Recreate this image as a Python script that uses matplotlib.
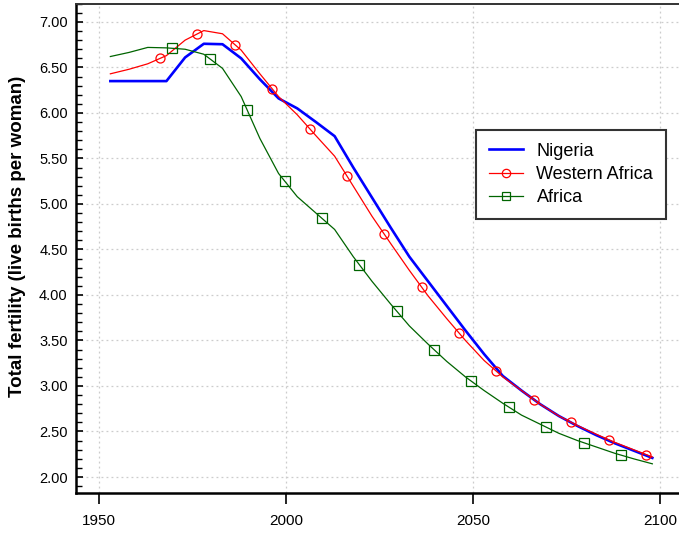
import numpy as np
import matplotlib
matplotlib.use('Agg')
import matplotlib.pyplot as plt
from matplotlib.ticker import MultipleLocator, FormatStrFormatter

matplotlib.rcParams['font.family'] = ['Liberation Sans', 'DejaVu Sans']

# ---------- data ----------
years = np.arange(1953, 2099, 5)

nigeria = [6.35, 6.35, 6.35, 6.35, 6.61, 6.76, 6.755, 6.60, 6.37, 6.16,
           6.05, 5.90, 5.745, 5.40, 5.07, 4.74, 4.42, 4.15, 3.88, 3.61,
           3.35, 3.11, 2.95, 2.80, 2.67, 2.56, 2.46, 2.37, 2.29, 2.21]

western_africa = [6.43, 6.48, 6.54, 6.63, 6.80, 6.905, 6.87, 6.69, 6.43, 6.18,
                  5.98, 5.75, 5.525, 5.195, 4.865, 4.565, 4.27, 3.99, 3.74, 3.50,
                  3.28, 3.10, 2.95, 2.80, 2.67, 2.565, 2.47, 2.38, 2.30, 2.22]

africa = [6.62, 6.665, 6.72, 6.715, 6.70, 6.645, 6.49, 6.18, 5.72, 5.335,
          5.08, 4.90, 4.72, 4.42, 4.15, 3.90, 3.66, 3.46, 3.27, 3.10,
          2.95, 2.81, 2.68, 2.58, 2.48, 2.40, 2.33, 2.26, 2.20, 2.145]

# marker positions (every 10 years, offset per series)
wa_marker_years = np.arange(1966.3, 2097, 10)
af_marker_years = np.arange(1969.6, 2090, 10)

fig = plt.figure(figsize=(6.79, 5.33), dpi=100)
ax = fig.add_axes([0.1119, 0.075, 0.889, 0.918])

ax.plot(years, nigeria, color='#0000ff', lw=1.9)
ax.plot(years, western_africa, color='#ff0000', lw=0.9)
ax.plot(wa_marker_years, np.interp(wa_marker_years, years, western_africa),
        ls='none', marker='o', ms=6.5, mfc='none', mec='#ff0000', mew=0.9)
ax.plot(years, africa, color='#006400', lw=0.9)
ax.plot(af_marker_years, np.interp(af_marker_years, years, africa),
        ls='none', marker='s', ms=6.5, mfc='none', mec='#006400', mew=0.9)

# legend proxies
h1, = ax.plot([], [], color='#0000ff', lw=1.9)
h2, = ax.plot([], [], color='#ff0000', lw=0.9, marker='o', ms=6, mfc='none', mew=0.9)
h3, = ax.plot([], [], color='#006400', lw=0.9, marker='s', ms=6, mfc='none', mew=0.9)
leg = ax.legend([h1, h2, h3], ['Nigeria', 'Western Africa', 'Africa'],
                loc='upper left', bbox_to_anchor=(476 / 679, 1 - 130 / 533),
                bbox_transform=fig.transFigure, borderaxespad=0,
                fontsize=13, fancybox=False, framealpha=1,
                handlelength=1.9, borderpad=0.7, labelspacing=0.35,
                handletextpad=0.75)
leg.get_frame().set_edgecolor('#333333')
leg.get_frame().set_linewidth(1.5)

ax.set_xlim(1943.8, 2105.3)
ax.set_ylim(1.824, 7.2)
ax.set_xticks([1950, 2000, 2050, 2100])
ax.yaxis.set_major_locator(MultipleLocator(0.5))
ax.yaxis.set_minor_locator(MultipleLocator(0.1))
ax.yaxis.set_major_formatter(FormatStrFormatter('%.2f'))

ax.grid(True, which='major', color='#cccccc', ls=(0, (1.5, 2.5)), lw=0.9)
ax.tick_params(axis='y', which='major', direction='in', length=5, width=1.2,
               labelsize=10.5, pad=6)
ax.tick_params(axis='y', which='minor', direction='in', length=4, width=1)
ax.tick_params(axis='x', which='major', direction='out', length=8, width=1.2,
               labelsize=11, pad=7)

for s in ['left', 'bottom']:
    ax.spines[s].set_linewidth(1.8)
    ax.spines[s].set_color('black')
ax.spines['top'].set_linewidth(1.4)
ax.spines['top'].set_color('#333333')
ax.spines['right'].set_visible(False)

ax.set_ylabel('Total fertility (live births per woman)', fontsize=13.5,
              fontweight='bold')
ax.yaxis.set_label_coords(-0.082, 0.525)

fig.savefig('out.png', dpi=100)
